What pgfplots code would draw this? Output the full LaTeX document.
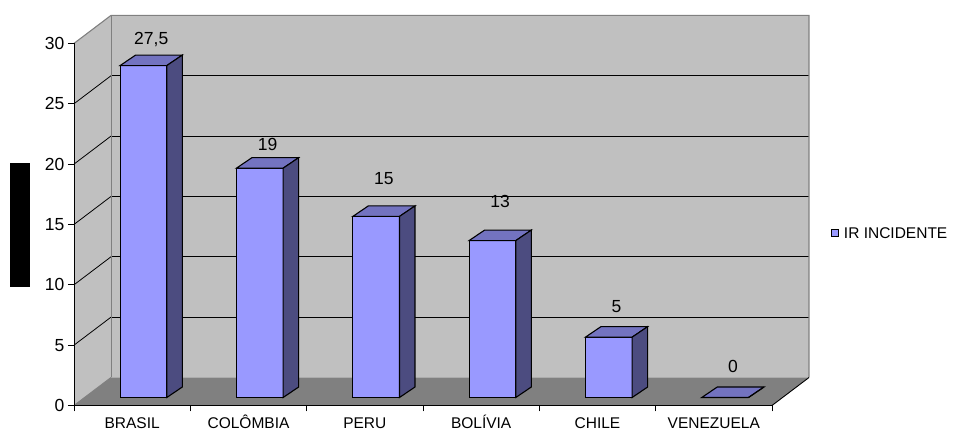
\documentclass[border=0pt]{standalone}
\usepackage{fontspec}
\setmainfont{Liberation Sans}
\usepackage{pgfplots}
\usepackage{pgfplotstable}
\pgfplotsset{compat=1.18}

\definecolor{wallgray}{RGB}{192,192,192}
\definecolor{floorgray}{RGB}{128,128,128}
\definecolor{edgegray}{RGB}{128,128,128}
\definecolor{barfront}{RGB}{153,153,255}
\definecolor{bartop}{RGB}{115,115,192}
\definecolor{barside}{RGB}{76,76,128}

% category index, value, rise of the value label above the bar's front top (pt)
\pgfplotstableread{
cat val  lab
0   27.5 21.4
1   19   17.5
2   15   31.5
3   13   33.0
4   5    24.6
5   0    24.6
}\irdata

% top and right-hand faces of a 3-d bar, drawn from the top centre of its front face
\newcommand\yunitpt{12.07}
\pgfdeclareplotmark{barcap}{%
  \pgfmathsetmacro\capheight{\barvalue*\yunitpt}%
  \pgfsetlinewidth{1.1pt}%
  \pgfsetstrokecolor{black}%
  \pgfsetmiterjoin
  \pgfpathmoveto{\pgfqpoint{-23.35pt}{0pt}}%
  \pgfpathlineto{\pgfqpoint{23.35pt}{0pt}}%
  \pgfpathlineto{\pgfqpoint{38.85pt}{10.5pt}}%
  \pgfpathlineto{\pgfqpoint{-7.85pt}{10.5pt}}%
  \pgfpathclose
  \pgfsetfillcolor{bartop}%
  \pgfusepath{fill,stroke}%
  \pgfpathmoveto{\pgfqpoint{23.35pt}{0pt}}%
  \pgfpathlineto{\pgfqpoint{38.85pt}{10.5pt}}%
  \pgfpathlineto{\pgfpoint{38.85pt}{10.5pt-\capheight pt}}%
  \pgfpathlineto{\pgfpoint{23.35pt}{-\capheight pt}}%
  \pgfpathclose
  \pgfsetfillcolor{barside}%
  \pgfusepath{fill,stroke}%
}

\begin{document}
\begin{tikzpicture}
\path[use as bounding box] (0pt,0pt) rectangle (955pt,430pt);

% box: side wall, back wall, floor, grid and the front axes
\begin{axis}[
  at={(74pt,24.5pt)}, anchor=south west,
  x=116.33pt, y=12.07pt,
  xmin=-0.5, xmax=5.5, ymin=0, ymax=30,
  clip=false, axis on top,
  axis x line*=bottom, axis y line*=left,
  axis line style={black, line width=0.9pt, -},
  xtick={-0.5,0.5,...,5.5},
  x tick label as interval,
  xticklabels={BRASIL,COLÔMBIA,PERU,BOLÍVIA,CHILE,VENEZUELA},
  ytick={0,5,...,30},
  tick align=outside, major tick length=6pt,
  tick style={black, line width=0.9pt},
  xticklabel style={font=\fontsize{15.5}{18}\selectfont, inner sep=0pt,
    text height=11.1pt, text depth=0pt, yshift=-5.3pt},
  yticklabel style={font=\fontsize{17.5}{20}\selectfont, inner sep=0pt, xshift=-3.5pt},
  /pgf/number format/assume math mode=true,
]
  \fill[wallgray] (axis cs:-0.5,0) -- (axis cs:-0.1819,2.3198) -- (axis cs:-0.1819,32.3198) -- (axis cs:-0.5,30) -- cycle;
  \fill[wallgray] (axis cs:-0.1819,2.3198) rectangle (axis cs:5.8181,32.3198);
  \fill[floorgray] (axis cs:-0.5,0) -- (axis cs:5.5,0) -- (axis cs:5.8181,2.3198) -- (axis cs:-0.1819,2.3198) -- cycle;
  \pgfplotsinvokeforeach{5,10,...,25}{%
    \draw[black, line width=0.8pt] (axis cs:-0.1819,{#1+2.3198}) -- (axis cs:5.8181,{#1+2.3198});
    \draw[black, line width=0.8pt] (axis cs:-0.5,#1) -- (axis cs:-0.1819,{#1+2.3198});
  }
  \draw[edgegray, line width=1pt] (axis cs:-0.1819,2.3198) -- (axis cs:-0.1819,32.3198);
  \draw[edgegray, line width=1pt] (axis cs:-0.5,0) -- (axis cs:-0.1819,2.3198);
  \draw[edgegray, line width=1.1pt] (axis cs:-0.5,30) -- (axis cs:-0.1819,32.3198)
     -- (axis cs:5.8181,32.3198) -- (axis cs:5.8181,2.3198);
  \draw[black, line width=0.9pt] (axis cs:5.5,0) -- (axis cs:5.8181,2.3198);
\end{axis}

% axis title block
\fill[black] (10pt,143.3pt) rectangle (30pt,266.7pt);

% bars, set back into the box
\begin{axis}[
  at={(85.3pt,32.5pt)}, anchor=south west,
  x=116.33pt, y=12.07pt,
  xmin=-0.5, xmax=5.5, ymin=0, ymax=30,
  hide axis, clip=false,
  /pgf/number format/use comma,
  /pgf/number format/assume math mode=true,
  legend style={at={(axis cs:5.91,13.59)}, anchor=west, draw=none, fill=none,
    inner sep=0pt, outer sep=0pt, font=\fontsize{15.5}{18}\selectfont,
    nodes={inner sep=0pt},
    /tikz/every odd column/.append style={column sep=4.5pt}},
]
  \addplot[ybar, bar width=46.7pt, fill=barfront, draw=black, line width=1.1pt,
    legend image code/.code={\draw[fill=barfront, draw=black, line width=1pt] (0pt,-3.5pt) rectangle (7.5pt,3.5pt);}]
    table[x=cat, y=val] {\irdata};
  \addlegendentry{IR INCIDENTE}
  \addplot[forget plot, scatter, only marks, mark=barcap, point meta=y,
    scatter/@pre marker code/.code={}, scatter/@post marker code/.code={},
    visualization depends on={rawy \as \barvalue},
    visualization depends on={\thisrow{lab} \as \labelrise},
    nodes near coords,
    every node near coord/.append style={anchor=base, inner sep=0pt, text depth=0pt,
      xshift=7.75pt, yshift=\labelrise pt, font=\fontsize{17.5}{20}\selectfont, black}]
    table[x=cat, y=val] {\irdata};
\end{axis}
\end{tikzpicture}
\end{document}
